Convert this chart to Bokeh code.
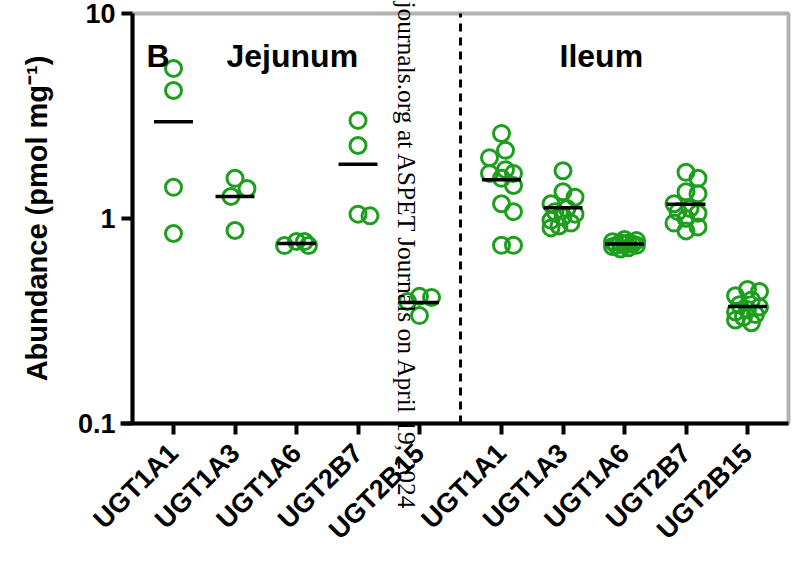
import math
from bokeh.plotting import figure
from bokeh.models import (FixedTicker, CustomJSTickFormatter, Label,
                          ColumnDataSource, Range1d, BoxAnnotation)
from bokeh.embed import file_html
from bokeh.resources import INLINE

# ---------------- data ----------------
isoforms = ["UGT1A1", "UGT1A3", "UGT1A6", "UGT2B7", "UGT2B15"]
regions = ["Jejunum", "Ileum"]

jejunum_ugt1a1 = [5.39, 4.21, 1.42, 0.845]
jejunum_ugt1a3 = [1.57, 1.40, 1.28, 0.874]
jejunum_ugt1a6 = [0.772, 0.738, 0.738, 0.772]
jejunum_ugt2b7 = [3.01, 2.27, 1.05, 1.03]
jejunum_ugt2b15 = [0.417, 0.412, 0.394, 0.336]

ileum_ugt1a1 = [2.60, 2.15, 1.98, 1.73, 1.66, 1.66, 1.57, 1.45, 1.18, 1.08, 0.74, 0.74]
ileum_ugt1a3 = [1.71, 1.35, 1.27, 1.18, 1.12, 1.08, 1.05, 1.02, 0.98, 0.95, 0.92, 0.90]
ileum_ugt1a6 = [0.79, 0.78, 0.77, 0.76, 0.76, 0.75, 0.75, 0.74, 0.74, 0.73, 0.72, 0.71]
ileum_ugt2b7 = [1.68, 1.57, 1.35, 1.32, 1.18, 1.12, 1.08, 1.06, 1.00, 0.95, 0.91, 0.87]
ileum_ugt2b15 = [0.45, 0.44, 0.42, 0.40, 0.38, 0.37, 0.36, 0.35, 0.34, 0.33, 0.32, 0.31]

y_ticks = [0.1, 1, 10]
watermark = "journals.org at ASPET Journals on April 19, 2024"

jejunum = [jejunum_ugt1a1, jejunum_ugt1a3, jejunum_ugt1a6, jejunum_ugt2b7, jejunum_ugt2b15]
ileum = [ileum_ugt1a1, ileum_ugt1a3, ileum_ugt1a6, ileum_ugt2b7, ileum_ugt2b15]

# ---------------- layout ----------------
W, H = 795, 570
BL, BR, BT, BB = 132, 7, 13, 147          # where the drawn box sits in the canvas
X0, X1 = 1, 33                             # data extent of the drawn box
Y0, Y1 = 0.1, 10
FW, FH = W - BL - BR, H - BT - BB
PX_X = FW / (X1 - X0)
PX_DEC = FH / (math.log10(Y1) - math.log10(Y0))

SPACING = 3
GAP = 4
jej_pos = [SPACING * (i + 1) for i in range(5)]
ile_pos = [jej_pos[-1] + GAP + SPACING * i for i in range(5)]
divider = jej_pos[-1] + 2

GREEN = "#1e9e1e"
FONT = "Liberation Sans"


def xpix_to_data(xpx):
    return X0 + (xpx - BL) / PX_X


def ypix_to_data(ypx):
    return 10 ** (math.log10(Y1) - (ypx - BT) / PX_DEC)


def swarm(vals, d=17.0, step=4.0, maxoff=12.0):
    """Deterministic beeswarm offsets (in data-x units)."""
    cands = [0.0]
    k = 1
    while k * step <= maxoff + 1e-9:
        cands += [k * step, -k * step]
        k += 1
    placed, offs = [], []
    for v in vals:
        y = math.log10(v) * PX_DEC
        best, best_md = 0.0, -1.0
        for c in cands:
            md = min((math.hypot(c - px, y - py) for px, py in placed), default=1e9)
            if md >= d:
                best = c
                break
            if md > best_md:
                best_md, best = md, c
        placed.append((best, y))
        offs.append(best / PX_X)
    return offs


xs, ys = [], []
mx0, mx1, my = [], [], []
for positions, groups in ((jej_pos, jejunum), (ile_pos, ileum)):
    for pos, vals in zip(positions, groups):
        for off, v in zip(swarm(vals), vals):
            xs.append(pos + off)
            ys.append(v)
        m = sum(vals) / len(vals)
        mx0.append(pos - 0.95)
        mx1.append(pos + 0.95)
        my.append(m)

# the frame covers the whole canvas; the axes are pinned at the box edges
p = figure(width=W, height=H,
           x_range=Range1d(xpix_to_data(0), xpix_to_data(W)),
           y_range=Range1d(ypix_to_data(H), ypix_to_data(0)),
           y_axis_type="log", output_backend="svg", toolbar_location=None,
           min_border_left=0, min_border_right=0, min_border_top=0,
           min_border_bottom=0)
p.grid.visible = False
p.outline_line_color = None
p.background_fill_color = "white"
p.border_fill_color = "white"

p.add_layout(BoxAnnotation(left=X0, right=X1, bottom=Y0, top=Y1, fill_alpha=0,
                           line_color="black", line_width=4, level="underlay"))

p.scatter(x="x", y="y", source=ColumnDataSource(dict(x=xs, y=ys)), marker="circle",
          size=16, line_width=3, line_color=GREEN, fill_alpha=0)
p.segment(x0="x0", x1="x1", y0="y", y1="y",
          source=ColumnDataSource(dict(x0=mx0, x1=mx1, y=my)),
          line_color="black", line_width=3.5)

p.segment(x0=[divider], x1=[divider], y0=[Y0], y1=[Y1], line_color="black",
          line_width=3, line_dash="8 6")

# axes
xa = p.xaxis[0]
xa.fixed_location = Y0
xa.bounds = (xpix_to_data(BL - 12), X1)
xa.ticker = FixedTicker(ticks=jej_pos + ile_pos)
xa.major_label_overrides = {pos: name for pos, name in zip(jej_pos + ile_pos, isoforms * 2)}
xa.major_label_orientation = math.pi / 4
xa.major_label_text_font = FONT
xa.major_label_text_font_style = "bold"
xa.major_label_text_font_size = "27px"
xa.major_label_text_color = "black"
xa.major_label_standoff = 14

ya = p.yaxis[0]
ya.fixed_location = X0
ya.bounds = (Y0, Y1)
ya.ticker = FixedTicker(ticks=y_ticks, minor_ticks=[])
ya.formatter = CustomJSTickFormatter(code="return String(tick);")
ya.major_label_text_font = FONT
ya.major_label_text_font_style = "bold"
ya.major_label_text_font_size = "27px"
ya.major_label_text_color = "black"
ya.major_label_standoff = 6
ya.axis_label = "Abundance (pmol mg\u207b\u00b9)"
ya.axis_label_text_font = FONT
ya.axis_label_text_font_style = "bold"
ya.axis_label_text_font_size = "29px"
ya.axis_label_text_color = "black"
ya.axis_label_standoff = 22

for ax in (xa, ya):
    ax.axis_line_width = 4
    ax.axis_line_color = "black"
    ax.major_tick_line_width = 4
    ax.major_tick_line_color = "black"
    ax.major_tick_out = 11
    ax.major_tick_in = 0
    ax.minor_tick_line_color = None

# panel texts
for txt, xpx in (("B", 146), (regions[0], 226), (regions[1], 559)):
    p.add_layout(Label(x=xpix_to_data(xpx), y=ypix_to_data(55), text=txt,
                       text_font=FONT, text_font_style="bold", text_font_size="32px",
                       text_color="black", text_baseline="alphabetic", text_align="left"))

p.add_layout(Label(x=xpix_to_data(406), y=ypix_to_data(1), text=watermark,
                   angle=-math.pi / 2, text_font="Liberation Serif",
                   text_font_size="25.5px", text_color="black",
                   text_baseline="alphabetic", text_align="left"))

open("out.html", "w").write(file_html(p, INLINE))
